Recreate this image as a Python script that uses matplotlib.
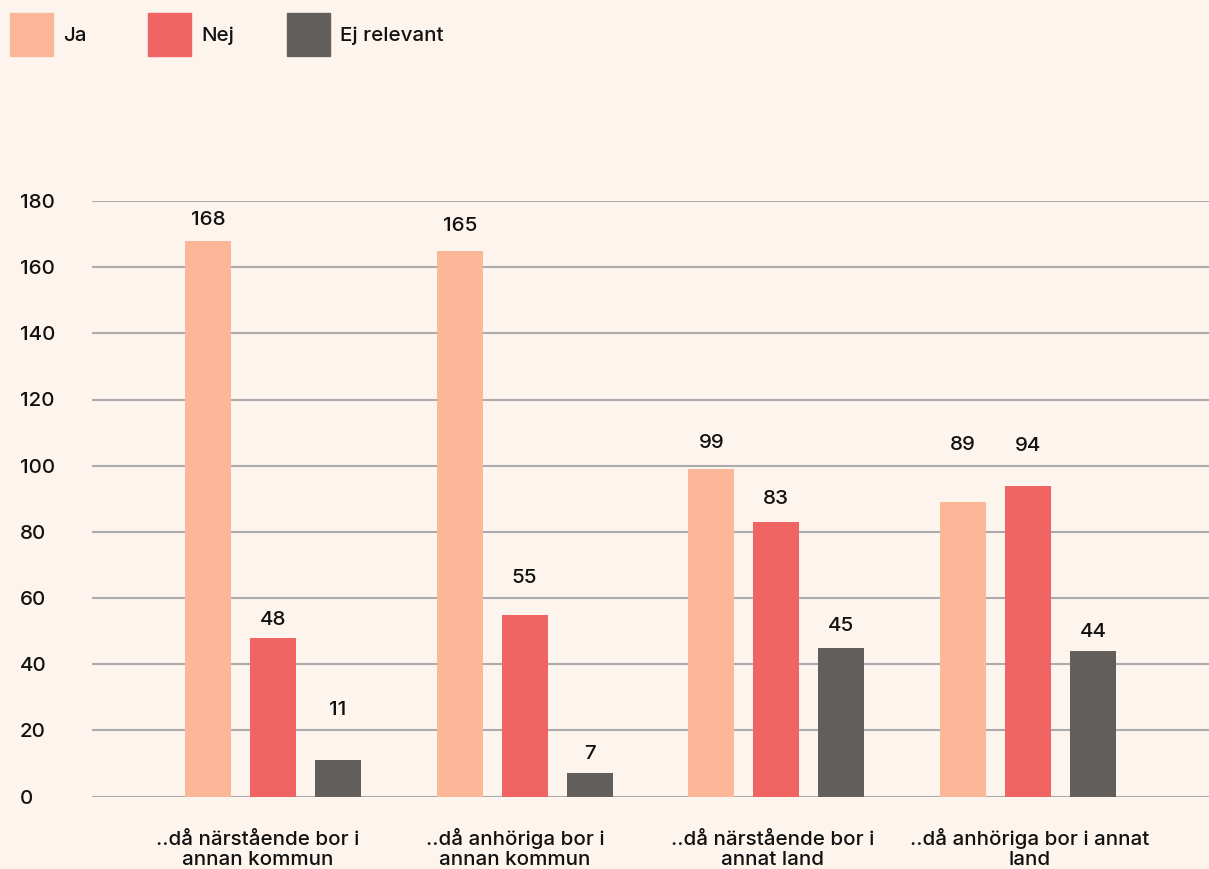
import matplotlib.pyplot as plt
from matplotlib.patches import Rectangle
import numpy as np

categories = ['..då närstående bor i\nannan kommun', '..då anhöriga bor i\nannan kommun',
              '..då närstående bor i\nannat land', '..då anhöriga bor i annat\nland']
series = ['Ja', 'Nej', 'Ej relevant']
ja = [168, 165, 99, 89]
nej = [48, 55, 83, 94]
ej = [11, 7, 45, 44]
yticks = [0, 20, 40, 60, 80, 100, 120, 140, 160, 180]

colors = ['#FBB797', '#F06464', '#625E5C']
# label lift above each bar (data units), the original places them unevenly
label_pad = [[6.4, 7.3, 7.8, 17.2], [5.5, 10.9, 7.0, 11.9], [15.2, 5.7, 6.6, 5.8]]

plt.rcParams['font.family'] = ['Inter', 'DejaVu Sans']
plt.rcParams['font.weight'] = 'medium'
bg = '#FDF4EE'
txt = '#111111'
fs = 14.8

fig = plt.figure(figsize=(12.09, 8.69), dpi=100, facecolor=bg)
W, H = 1209, 869
ax = fig.add_axes([92 / W, (869 - 796.5) / H, (1209 - 92) / W, 595.5 / H])
ax.set_facecolor(bg)

x = np.arange(len(categories))
step = 0.258
width = 0.183
for i, vals in enumerate([ja, nej, ej]):
    pos = x + (i - 1) * step
    ax.bar(pos, vals, width=width, color=colors[i], zorder=3)
    for j, v in enumerate(vals):
        ax.text(pos[j], v + label_pad[i][j], str(v), ha='center', va='center',
                fontsize=fs, color=txt, zorder=4)

ax.set_xlim(-0.719, 3.719)
ax.set_ylim(0, 180)
ax.set_yticks(yticks)
ax.set_yticklabels([str(t) for t in yticks])
for lab in ax.get_yticklabels():
    lab.set_horizontalalignment('left')
ax.tick_params(axis='y', length=0, pad=51.8, labelsize=fs, labelcolor=txt)
ax.set_xticks([])
ax.grid(axis='y', color='#ABABAB', linewidth=1.5, zorder=1)
ax.set_axisbelow(True)
for s in ax.spines.values():
    s.set_visible(False)

# category labels sit on a slightly wider spacing than the bar groups
label_x = x * 1.022 - 0.06
for xi, cat in zip(label_x, categories):
    ax.annotate(cat, xy=(xi, 0), xycoords=('data', 'axes fraction'),
                xytext=(0, -49.5), textcoords='offset points', ha='center',
                va='baseline', fontsize=fs, color=txt, linespacing=1.15,
                annotation_clip=False)

# legend drawn by hand at the top left
leg_x = [10, 148, 287]
for i, name in enumerate(series):
    fig.patches.append(Rectangle((leg_x[i] / W, (869 - 56) / H), 43 / W, 43 / H,
                                 transform=fig.transFigure, color=colors[i]))
    fig.text((leg_x[i] + 53) / W, (869 - 36) / H, name, ha='left', va='center',
             fontsize=fs, color=txt)

fig.savefig('out.png', dpi=100, facecolor=bg)
